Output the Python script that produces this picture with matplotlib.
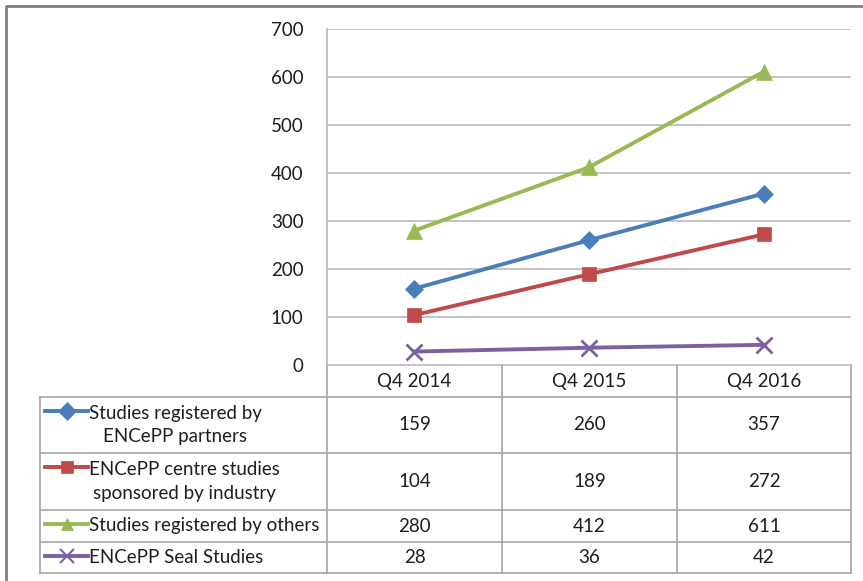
import matplotlib
matplotlib.use('Agg')

import matplotlib.pyplot as plt
from matplotlib.lines import Line2D

categories = ['Q4 2014', 'Q4 2015', 'Q4 2016']
series_names = ['Studies registered by\nENCePP partners',
                'ENCePP centre studies\nsponsored by industry',
                'Studies registered by others',
                'ENCePP Seal Studies']
partners = [159, 260, 357]
industry = [104, 189, 272]
others = [280, 412, 611]
seal = [28, 36, 42]
yticks = [0, 100, 200, 300, 400, 500, 600, 700]

series = [partners, industry, others, seal]
colors = ['#4A7EBB', '#BE4B48', '#98B954', '#7D60A0']
markers = ['D', 's', '^', 'x']
msizes = [9, 10.5, 11, 12]

plt.rcParams['font.family'] = ['Lato', 'DejaVu Sans']
FS = 13.5
W, H = 863, 581
fig = plt.figure(figsize=(W / 100, H / 100), dpi=100)

# pixel layout
L, R, T, B = 327, 851, 29, 365
rows = [365, 397, 453, 510, 542, 573]
tab_left = 40
cols = [327, 502, 677, 851]
grid_c = '#BEBEBE'
txt_c = '#1E1E1E'

# overlay for borders and table
ov = fig.add_axes([0, 0, 1, 1])
ov.set_xlim(0, W)
ov.set_ylim(H, 0)
ov.axis('off')
ov.plot([6, 6, W + 5], [H + 5, 6, 6], color='#808080', lw=2, clip_on=False)

ax = fig.add_axes([L / W, 1 - B / H, (R - L) / W, (B - T) / H])
for s, c, m, ms in zip(series, colors, markers, msizes):
    ax.plot(range(len(categories)), s, color=c, lw=2.8, marker=m, ms=ms,
            mew=2 if m == 'x' else 0.5, mec=c, clip_on=False, zorder=3)
ax.set_xlim(-0.5, len(categories) - 0.5)
ax.set_ylim(0, 700)
ax.set_yticks(yticks)
ax.set_xticks([])
ax.grid(axis='y', color=grid_c, lw=1.3)
ax.set_axisbelow(True)
for sp in ['top', 'right', 'bottom']:
    ax.spines[sp].set_visible(False)
ax.spines['left'].set_color(grid_c)
ax.spines['left'].set_linewidth(1.3)
ax.tick_params(axis='y', length=0, pad=17, labelsize=FS, labelcolor=txt_c)

# table lines
lc = '#A6A6A6'
ov.plot([L, R], [rows[0], rows[0]], color=grid_c, lw=1.3)
for y in rows[1:]:
    ov.plot([tab_left, R], [y, y], color=lc, lw=1.2)
for x in cols:
    ov.plot([x, x], [rows[0], rows[-1]], color=lc, lw=1.2)
ov.plot([tab_left, tab_left], [rows[1], rows[-1]], color=lc, lw=1.2)

centers = [(cols[i] + cols[i + 1]) / 2 for i in range(len(categories))]
for cx, cat in zip(centers, categories):
    ov.text(cx, (rows[0] + rows[1]) / 2, cat, ha='center', va='center',
            fontsize=FS, color=txt_c)

for i, (name, s, c, m) in enumerate(zip(series_names, series, colors, markers)):
    yc = (rows[i + 1] + rows[i + 2]) / 2
    ytop = rows[i + 1] + 14
    ov.add_line(Line2D([45, 88], [ytop, ytop], color=c, lw=2.8))
    ov.add_line(Line2D([66.5], [ytop], color=c, marker=m,
                       ms=9 if m != 'x' else 10, mew=1.5 if m == 'x' else 0.5,
                       mec=c, lw=0))
    ov.text(89, yc, name, ha='left', va='center', multialignment='center',
            fontsize=FS, color=txt_c, linespacing=1.45)
    for cx, v in zip(centers, s):
        ov.text(cx, yc, str(v), ha='center', va='center', fontsize=FS,
                color=txt_c)

fig.savefig('out.png', dpi=100)
